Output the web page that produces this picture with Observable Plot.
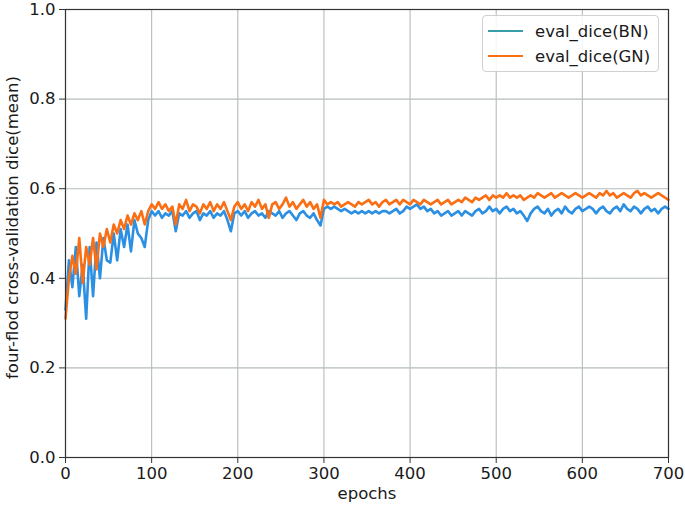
<!DOCTYPE html>
<html>
<head>
<meta charset="utf-8">
<script src="https://cdn.jsdelivr.net/npm/d3@7"></script>
<script src="https://cdn.jsdelivr.net/npm/@observablehq/plot@0.6"></script>
<style>
  html, body { margin: 0; padding: 0; background: #fff; }
  #wrap { position: relative; width: 685px; height: 510px; font-family: "DejaVu Sans", sans-serif; }
  #legend { position: absolute; left: 482px; top: 15px; width: 177px; height: 57px;
    border: 1px solid #d0d0d0; border-radius: 4px; background: rgba(255,255,255,0.85); box-sizing: border-box; }
  .item { position: absolute; left: 5px; height: 20px; display: flex; align-items: center; font-size: 16.5px; color: #1a1a1a; }
  .sw { width: 35px; height: 0; border-top: 2.5px solid; margin-right: 12px; }
</style>
</head>
<body>
<div id="wrap"></div>
<script>
// epochs sampled every 4 epochs from 0 to 700
const epochs = d3.range(0, 701, 4);

const diceBN = [
  0.33,0.44,0.38,0.47,0.36,0.43,0.31,0.47,0.36,0.48,
  0.40,0.49,0.44,0.435,0.50,0.44,0.51,0.47,0.52,0.46,
  0.53,0.50,0.49,0.47,0.53,0.55,0.54,0.55,0.535,0.545,
  0.54,0.55,0.505,0.545,0.54,0.55,0.535,0.545,0.55,0.53,
  0.545,0.54,0.55,0.535,0.545,0.54,0.55,0.53,0.505,0.545,
  0.55,0.54,0.55,0.535,0.545,0.55,0.54,0.545,0.535,0.55,
  0.545,0.54,0.55,0.535,0.545,0.55,0.54,0.53,0.545,0.55,
  0.54,0.535,0.545,0.53,0.518,0.555,0.56,0.555,0.56,0.555,
  0.55,0.555,0.55,0.545,0.55,0.545,0.55,0.545,0.55,0.545,
  0.55,0.545,0.55,0.55,0.545,0.55,0.555,0.545,0.55,0.56,
  0.555,0.56,0.565,0.555,0.56,0.55,0.555,0.545,0.55,0.54,
  0.545,0.55,0.54,0.545,0.55,0.54,0.55,0.545,0.54,0.55,
  0.555,0.545,0.55,0.56,0.55,0.555,0.545,0.555,0.56,0.55,
  0.555,0.545,0.55,0.54,0.528,0.545,0.555,0.56,0.55,0.545,
  0.555,0.54,0.55,0.555,0.545,0.56,0.55,0.545,0.555,0.56,
  0.55,0.555,0.56,0.555,0.545,0.555,0.56,0.55,0.545,0.555,
  0.56,0.55,0.565,0.555,0.55,0.56,0.555,0.545,0.555,0.56,
  0.55,0.555,0.545,0.555,0.56,0.555
];

const diceGN = [
  0.31,0.40,0.45,0.41,0.49,0.39,0.47,0.43,0.49,0.42,
  0.50,0.47,0.51,0.48,0.52,0.50,0.53,0.51,0.54,0.52,
  0.545,0.53,0.55,0.52,0.55,0.565,0.555,0.57,0.555,0.565,
  0.55,0.56,0.52,0.565,0.555,0.575,0.55,0.565,0.56,0.545,
  0.565,0.555,0.57,0.55,0.565,0.555,0.57,0.55,0.53,0.56,
  0.57,0.555,0.565,0.55,0.57,0.56,0.575,0.555,0.565,0.535,
  0.565,0.57,0.555,0.565,0.58,0.56,0.57,0.555,0.565,0.575,
  0.56,0.57,0.555,0.565,0.535,0.575,0.565,0.57,0.565,0.57,
  0.56,0.565,0.57,0.565,0.56,0.57,0.565,0.57,0.575,0.565,
  0.57,0.56,0.57,0.575,0.565,0.57,0.575,0.565,0.575,0.57,
  0.565,0.575,0.57,0.565,0.575,0.57,0.565,0.57,0.575,0.565,
  0.57,0.575,0.565,0.57,0.575,0.57,0.58,0.575,0.57,0.58,
  0.575,0.58,0.585,0.575,0.585,0.58,0.585,0.58,0.59,0.58,
  0.585,0.58,0.585,0.575,0.58,0.585,0.58,0.59,0.585,0.58,
  0.585,0.59,0.58,0.585,0.59,0.585,0.58,0.585,0.59,0.585,
  0.58,0.585,0.59,0.585,0.58,0.59,0.585,0.595,0.585,0.59,
  0.58,0.585,0.59,0.585,0.58,0.59,0.595,0.585,0.59,0.585,
  0.58,0.585,0.59,0.585,0.58,0.575
];

const seriesNames = ["eval_dice(BN)", "eval_dice(GN)"];
const xTicks = [0, 100, 200, 300, 400, 500, 600, 700];
const yTicks = [0.0, 0.2, 0.4, 0.6, 0.8, 1.0];
const xLabel = "epochs";
const yLabel = "four-flod cross-validation dice(mean)";

const lineColors = ["#2b8fe3", "#fb6f14"];
const legendColors = ["#3a9ea8", "#fb6f14"];

const bnData = epochs.map((e, i) => ({epoch: e, dice: diceBN[i]}));
const gnData = epochs.map((e, i) => ({epoch: e, dice: diceGN[i]}));

const chart = Plot.plot({
  width: 685,
  height: 510,
  marginLeft: 65,
  marginRight: 17,
  marginTop: 9,
  marginBottom: 53,
  style: { fontFamily: "DejaVu Sans, sans-serif", fontSize: "16.5px", color: "#1a1a1a", background: "#fff", overflow: "visible" },
  x: { domain: [0, 700], label: null },
  y: { domain: [0, 1], label: null },
  marks: [
    Plot.gridX(xTicks, { stroke: "#b4bcbc", strokeOpacity: 1, strokeWidth: 1.1 }),
    Plot.gridY(yTicks, { stroke: "#b4bcbc", strokeOpacity: 1, strokeWidth: 1.1 }),
    Plot.line(bnData, { x: "epoch", y: "dice", stroke: lineColors[0], strokeWidth: 2.6 }),
    Plot.line(gnData, { x: "epoch", y: "dice", stroke: lineColors[1], strokeWidth: 2.6 }),
    Plot.frame({ stroke: "#333", strokeWidth: 1.2 }),
    Plot.axisX({ ticks: xTicks, tickSize: 6, tickPadding: 4, tickFormat: d3.format("d"), label: null, stroke: "#333" }),
    Plot.axisY({ ticks: yTicks, tickSize: 6, tickPadding: 4, tickFormat: d3.format(".1f"), label: null, stroke: "#333" }),
    Plot.text([xLabel], { frameAnchor: "bottom", dy: 41, fontSize: 16.5, fill: "#1a1a1a", textAnchor: "middle" }),
    Plot.text([yLabel], { frameAnchor: "left", dx: -53, dy: -6, rotate: -90, fontSize: 16.5, fill: "#1a1a1a", textAnchor: "middle" })
  ]
});

const wrap = document.getElementById("wrap");
wrap.appendChild(chart);

const legend = document.createElement("div");
legend.id = "legend";
seriesNames.forEach((name, i) => {
  const item = document.createElement("div");
  item.className = "item";
  item.style.top = (5 + i * 25) + "px";
  const sw = document.createElement("span");
  sw.className = "sw";
  sw.style.borderTopColor = legendColors[i];
  const t = document.createElement("span");
  t.textContent = name;
  item.appendChild(sw);
  item.appendChild(t);
  legend.appendChild(item);
});
wrap.appendChild(legend);
</script>
</body>
</html>
